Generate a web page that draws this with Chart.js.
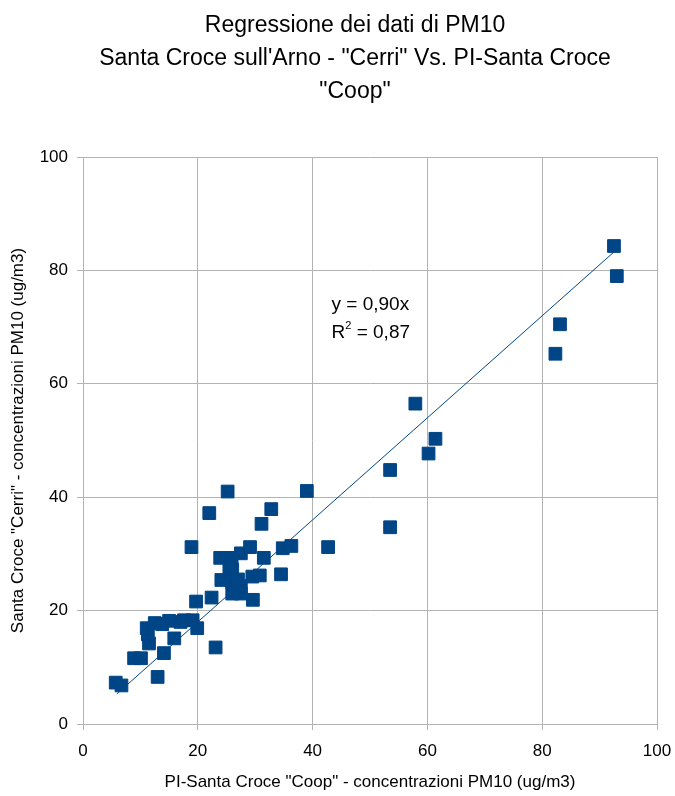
<!DOCTYPE html>
<html>
<head>
<meta charset="utf-8">
<script src="https://cdn.jsdelivr.net/npm/chart.js@4.4.1/dist/chart.umd.min.js"></script>
<style>
  html, body { margin: 0; padding: 0; background: #ffffff; }
  #wrap { width: 675px; height: 796px; }
</style>
</head>
<body>
<div id="wrap"><canvas id="c" width="675" height="796"></canvas></div>
<script>
// PI-Santa Croce "Coop" (x) vs Santa Croce sull'Arno "Cerri" (y), PM10 ug/m3
const coopValues = [
  5.7, 6.7, 8.9, 10.1, 13.0, 14.1, 11.5, 11.3, 11.1, 12.5,
  15.0, 17.6, 19.1, 19.9, 15.9, 23.1, 19.7, 22.4, 26.0, 27.5,
  29.6, 27.5, 26.0, 24.1, 26.0, 29.5, 30.8, 34.5, 23.9, 25.9,
  31.5, 27.5, 29.1, 18.9, 34.8, 36.3, 42.7, 31.1, 22.0, 32.8,
  25.2, 39.0, 53.5, 53.5, 60.2, 61.4, 57.9, 82.3, 83.1, 92.5,
  93.0, 13.8, 17.0, 25.5, 27.0
];
const cerriValues = [
  7.3, 6.8, 11.6, 11.6, 8.3, 12.5, 14.2, 15.8, 16.9, 17.8,
  18.2, 18.3, 18.3, 16.9, 15.1, 13.5, 21.6, 22.3, 23.0, 23.0,
  21.9, 24.2, 27.2, 25.4, 25.0, 26.0, 26.2, 26.4, 29.3, 29.3,
  29.3, 30.1, 31.2, 31.2, 31.0, 31.4, 31.2, 35.3, 37.2, 37.9,
  41.0, 41.1, 44.8, 34.7, 47.7, 50.3, 56.5, 65.3, 70.5, 84.3,
  79.0, 17.6, 18.0, 27.5, 25.5
];
const slope = 0.90;
const rSquared = '0,87';
const trendRange = [5.9, 93.0];
const axisTicks = [0, 20, 40, 60, 80, 100];

const titleLines = [
  'Regressione dei dati di PM10',
  'Santa Croce sull\'Arno - "Cerri" Vs. PI-Santa Croce',
  '"Coop"'
];
const xTitle = 'PI-Santa Croce "Coop" - concentrazioni PM10 (ug/m3)';
const yTitle = 'Santa Croce "Cerri" - concentrazioni PM10 (ug/m3)';

const points = coopValues.map((x, i) => ({ x: x, y: cerriValues[i] }));
const trend = trendRange.map(x => ({ x: x, y: slope * x }));

const FONT = "'Liberation Sans', Arial, sans-serif";
const BLUE = '#004586';
const GRID = '#b3b3b3';

// three-line chart title, centred over the plot block
const chartTitle = {
  id: 'chartTitle',
  afterDraw(chart) {
    const ctx = chart.ctx;
    const cx = 355;
    const baselines = [31.5, 65, 98];
    ctx.save();
    ctx.fillStyle = '#000000';
    ctx.font = '23px ' + FONT;
    ctx.textAlign = 'center';
    ctx.textBaseline = 'alphabetic';
    titleLines.forEach((t, i) => ctx.fillText(t, cx, baselines[i]));
    ctx.restore();
  }
};

// equation and R² label
const equationLabel = {
  id: 'equationLabel',
  afterDatasetsDraw(chart) {
    const ctx = chart.ctx;
    const xs = chart.scales.x, ys = chart.scales.y;
    const px = xs.getPixelForValue(43.3);
    const py1 = ys.getPixelForValue(73.9);
    const py2 = ys.getPixelForValue(69.0);
    ctx.save();
    ctx.fillStyle = '#000000';
    ctx.textBaseline = 'middle';
    ctx.textAlign = 'left';
    ctx.font = '19px ' + FONT;
    ctx.fillText('y = 0,90x', px, py1);
    ctx.fillText('R', px, py2);
    const wR = ctx.measureText('R').width;
    ctx.font = '11px ' + FONT;
    ctx.fillText('2', px + wR, py2 - 7);
    const w2 = ctx.measureText('2').width;
    ctx.font = '19px ' + FONT;
    ctx.fillText(' = ' + rSquared, px + wR + w2, py2);
    ctx.restore();
  }
};

new Chart(document.getElementById('c'), {
  type: 'scatter',
  data: {
    datasets: [
      {
        label: 'Cerri',
        data: points,
        pointStyle: 'rect',
        pointRadius: 9,
        pointHoverRadius: 9,
        backgroundColor: BLUE,
        borderColor: BLUE,
        borderWidth: 1,
        order: 2
      },
      {
        label: 'trend',
        type: 'line',
        data: trend,
        borderColor: BLUE,
        borderWidth: 1,
        pointRadius: 0,
        fill: false,
        order: 1
      }
    ]
  },
  options: {
    responsive: false,
    animation: false,
    layout: { padding: { left: 0, right: 18, top: 157, bottom: 0 } },
    plugins: {
      legend: { display: false },
      tooltip: { enabled: false },
      title: { display: false }
    },
    scales: {
      x: {
        type: 'linear',
        min: 0, max: 100,
        afterBuildTicks(axis) { axis.ticks = axisTicks.map(v => ({ value: v })); },
        afterFit(axis) { axis.height = 72; axis.paddingLeft = 0; axis.paddingRight = 0; },
        ticks: { color: '#000000', font: { family: FONT, size: 17 }, padding: 11 },
        grid: { color: GRID, lineWidth: 1, tickLength: 6 },
        border: { color: GRID },
        title: {
          display: true, text: xTitle, color: '#000000',
          font: { family: FONT, size: 17 }, padding: { top: 4, bottom: 3 }
        }
      },
      y: {
        type: 'linear',
        min: 0, max: 100,
        afterBuildTicks(axis) { axis.ticks = axisTicks.map(v => ({ value: v })); },
        afterFit(axis) { axis.width = 83; axis.paddingTop = 0; axis.paddingBottom = 0; },
        ticks: { color: '#000000', font: { family: FONT, size: 17 }, padding: 9 },
        grid: { color: GRID, lineWidth: 1, tickLength: 6 },
        border: { color: GRID },
        title: {
          display: true, text: yTitle, color: '#000000',
          font: { family: FONT, size: 17 }, padding: { top: 8, bottom: 4 }
        }
      }
    }
  },
  plugins: [equationLabel, chartTitle]
});
</script>
</body>
</html>
